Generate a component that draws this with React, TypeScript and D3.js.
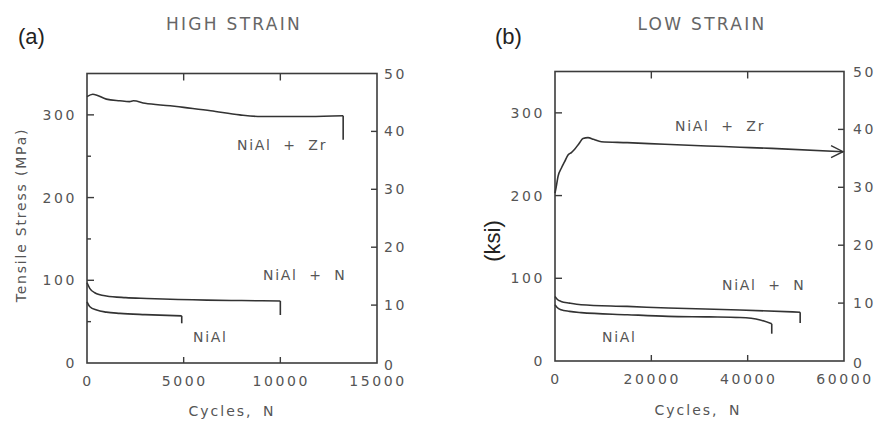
import React from "react";
import * as d3 from "d3";

// ---------- Data ----------
// Panel (a) HIGH STRAIN, cycles vs tensile stress (MPa)
const aZrCycles = [0, 300, 1000, 1700, 2200, 2400, 3000, 4300, 5000, 6400, 7900, 9000, 10000, 11500, 13250];
const aZrStress = [322, 325, 319, 317, 316, 317, 314, 311, 309, 305, 300, 298, 298, 298, 299];
const aZrEnd = 270;
const aNCycles = [0, 150, 400, 1000, 2000, 3100, 6200, 8000, 10000];
const aNStress = [97, 90, 85, 81, 79, 78, 76, 75.5, 75];
const aNEnd = 58;
const aNiCycles = [0, 150, 500, 1000, 1700, 3000, 4900];
const aNiStress = [74, 68, 64, 61.5, 60, 58.5, 57];
const aNiEnd = 48;

// Panel (b) LOW STRAIN
const bZrCycles = [0, 300, 620, 1310, 2000, 2700, 3400, 4080, 5000, 5810, 6850, 8000, 9620, 15000, 22800, 31500, 38400, 45000, 59800];
const bZrStress = [203, 212, 223, 233, 241, 249, 252, 256, 263, 269, 270, 268, 265, 264, 262, 260, 258.5, 257, 253];
const bNCycles = [0, 400, 1250, 3000, 5400, 15000, 23500, 38400, 50900];
const bNStress = [78, 75, 72, 70, 68, 66, 64, 61.7, 59];
const bNEnd = 46;
const bNiCycles = [0, 400, 1250, 3000, 5400, 15000, 23500, 32000, 38400, 42600, 45000];
const bNiStress = [68, 65, 62, 60, 58.5, 56, 54, 53.3, 52.5, 49.6, 45];
const bNiEnd = 33;

// Axis ticks
const stressTicks = [0, 100, 200, 300];
const stressMinorA = [50, 150, 250];
const ksiTicks = [0, 10, 20, 30, 40, 50];
const aCycleTicks = [0, 5000, 10000, 15000];
const bCycleTicks = [0, 20000, 40000, 60000];

const FONT = "'DejaVu Sans', sans-serif";
const TXT = "#555";
const AX = "#3c3c3c";
const LN = "#333";

type Series = { cycles: number[]; stress: number[]; end?: number; arrow?: boolean };

function Panel(props: {
  x0: number; x1: number; y0: number; y1: number; xMax: number;
  xTicks: number[]; minor: number[]; series: Series[]; rightPad: number;
}) {
  const { x0, x1, y0, y1, xMax, xTicks, minor, series, rightPad } = props;
  const x = d3.scaleLinear().domain([0, xMax]).range([x0, x1]);
  const y = d3.scaleLinear().domain([0, 350]).range([y0, y1]);
  const yr = d3.scaleLinear().domain([0, 50]).range([y0, y1]);
  const line = d3
    .line<[number, number]>()
    .x((d) => x(d[0]))
    .y((d) => y(d[1]))
    .curve(d3.curveMonotoneX);
  const inner = xTicks.slice(1, -1);
  const tickStyle = { fontFamily: FONT, fontSize: 14, fill: TXT, letterSpacing: 2.6 } as const;
  return (
    <g>
      <rect x={x0} y={y1} width={x1 - x0} height={y0 - y1} fill="none" stroke={AX} strokeWidth={1.6} />
      {stressTicks.filter((t) => t > 0).map((t) => (
        <line key={"l" + t} x1={x0} x2={x0 + 7} y1={y(t)} y2={y(t)} stroke={AX} strokeWidth={1.4} />
      ))}
      {minor.map((t) => (
        <line key={"m" + t} x1={x0} x2={x0 + 4} y1={y(t)} y2={y(t)} stroke={AX} strokeWidth={1.4} />
      ))}
      {ksiTicks.filter((t) => t > 0 && t < 50).map((t) => (
        <line key={"r" + t} x1={x1 - 6} x2={x1} y1={yr(t)} y2={yr(t)} stroke={AX} strokeWidth={1.4} />
      ))}
      {inner.map((t) => (
        <g key={"x" + t}>
          <line x1={x(t)} x2={x(t)} y1={y1} y2={y1 + 7} stroke={AX} strokeWidth={1.4} />
          <line x1={x(t)} x2={x(t)} y1={y0} y2={y0 - 6} stroke={AX} strokeWidth={1.4} />
        </g>
      ))}
      {stressTicks.map((t) => (
        <text key={"ll" + t} x={x0 - 10} y={y(t)} textAnchor="end" dominantBaseline="central" {...tickStyle}>
          {t}
        </text>
      ))}
      {ksiTicks.map((t) => (
        <text key={"rl" + t} x={x1 + rightPad} y={yr(t) + (t === 0 ? 2 : 0)} dominantBaseline="central" {...tickStyle}>
          {t}
        </text>
      ))}
      {xTicks.map((t) => (
        <text key={"xl" + t} x={x(t) + 1} y={y0 + 18} textAnchor="middle" dominantBaseline="central" {...tickStyle}>
          {t}
        </text>
      ))}
      {series.map((s, i) => {
        const pts = s.cycles.map((c, j) => [c, s.stress[j]] as [number, number]);
        const last = pts[pts.length - 1];
        const px = x(last[0]);
        const py = y(last[1]);
        return (
          <g key={"s" + i}>
            <path d={line(pts) || ""} fill="none" stroke={LN} strokeWidth={1.6} />
            {s.end !== undefined && (
              <line x1={px} x2={px} y1={py} y2={y(s.end)} stroke={LN} strokeWidth={1.6} />
            )}
            {s.arrow && (
              <path d={`M${px - 12},${py - 6}L${px},${py}L${px - 12},${py + 6}`} fill="none" stroke={LN} strokeWidth={1.4} />
            )}
          </g>
        );
      })}
    </g>
  );
}

export default function App() {
  const labelStyle = { fontFamily: FONT, fontSize: 14, fill: TXT, letterSpacing: 1.7, wordSpacing: 5.5 } as const;
  const titleStyle = { fontFamily: FONT, fontSize: 17, fill: "#666", letterSpacing: 2.3 } as const;
  const bigStyle = { fontFamily: "'Liberation Sans', Arial, sans-serif", fontSize: 22, fill: "#222" } as const;
  return (
    <svg
      width={875}
      height={421}
      style={{ position: "absolute", left: 0, top: 0, background: "#fff" }}
    >
      <rect width={875} height={421} fill="#fff" />
      {/* Panel (a) */}
      <text x={18} y={44} {...bigStyle}>(a)</text>
      <text x={234} y={24} textAnchor="middle" dominantBaseline="central" {...titleStyle}>HIGH STRAIN</text>
      <text
        transform="translate(21,215) rotate(-90)"
        textAnchor="middle"
        dominantBaseline="central"
        style={{ fontFamily: FONT, fontSize: 14, fill: TXT, letterSpacing: 1.8 }}
      >
        Tensile Stress (MPa)
      </text>
      <Panel
        x0={87} x1={377} y0={363} y1={73.5} xMax={15000}
        xTicks={aCycleTicks} minor={stressMinorA} rightPad={7}
        series={[
          { cycles: aZrCycles, stress: aZrStress, end: aZrEnd },
          { cycles: aNCycles, stress: aNStress, end: aNEnd },
          { cycles: aNiCycles, stress: aNiStress, end: aNiEnd },
        ]}
      />
      <text x={237} y={145} dominantBaseline="central" {...labelStyle}>NiAl + Zr</text>
      <text x={263} y={275} dominantBaseline="central" {...labelStyle}>NiAl + N</text>
      <text x={193} y={337} dominantBaseline="central" {...labelStyle}>NiAl</text>
      <text x={232} y={411} textAnchor="middle" dominantBaseline="central" style={{ fontFamily: FONT, fontSize: 14, fill: TXT, letterSpacing: 2, wordSpacing: 4 }}>Cycles, N</text>

      {/* Panel (b) */}
      <text x={495} y={44} {...bigStyle}>(b)</text>
      <text x={702} y={24} textAnchor="middle" dominantBaseline="central" {...titleStyle}>LOW STRAIN</text>
      <text transform="translate(492,241) rotate(-90)" textAnchor="middle" dominantBaseline="central" {...bigStyle}>(ksi)</text>
      <Panel
        x0={555} x1={844} y0={361} y1={71.5} xMax={60000}
        xTicks={bCycleTicks} minor={[]} rightPad={9}
        series={[
          { cycles: bZrCycles, stress: bZrStress, arrow: true },
          { cycles: bNCycles, stress: bNStress, end: bNEnd },
          { cycles: bNiCycles, stress: bNiStress, end: bNiEnd },
        ]}
      />
      <text x={675} y={126} dominantBaseline="central" {...labelStyle}>NiAl + Zr</text>
      <text x={722} y={285} dominantBaseline="central" {...labelStyle}>NiAl + N</text>
      <text x={602} y={337} dominantBaseline="central" {...labelStyle}>NiAl</text>
      <text x={698} y={410} textAnchor="middle" dominantBaseline="central" style={{ fontFamily: FONT, fontSize: 14, fill: TXT, letterSpacing: 2, wordSpacing: 4 }}>Cycles, N</text>
    </svg>
  );
}
